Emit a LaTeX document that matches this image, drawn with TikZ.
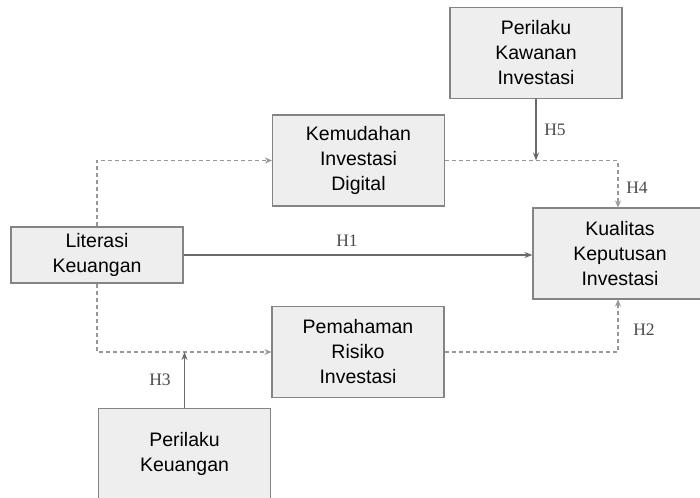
\documentclass[tikz,border=0pt]{standalone}
\usepackage{fontspec}
\setmainfont{Liberation Sans}
\newfontfamily\labfont{Liberation Serif}
\usetikzlibrary{arrows.meta}
\definecolor{boxfill}{HTML}{EEEEEE}
\definecolor{boxdraw}{HTML}{848484}
\definecolor{solidcol}{HTML}{6A6A6A}
\definecolor{dashcol}{HTML}{979797}
\definecolor{labcol}{HTML}{4A4A4A}
\begin{document}
\begin{tikzpicture}[x=1pt,y=-1pt,
  box/.style={draw=boxdraw, fill=boxfill, line width=1.1pt, minimum width=172pt,
    minimum height=91pt, align=center, inner sep=0pt,
    font=\fontsize{19.5}{25}\selectfont},
  solidline/.style={draw=solidcol, line width=1.2pt,
    -{Stealth[length=8pt,width=6pt]}},
  dashline/.style={draw=dashcol, line width=1.1pt, dash pattern=on 4pt off 3pt,
    -{Stealth[length=7pt,width=6pt]}},
  lab/.style={text=labcol, font=\labfont\fontsize{17.5}{17.5}\selectfont, inner sep=0pt}]
\useasboundingbox (0,0) rectangle (700,497);
\clip (0,0) rectangle (700,497);

\node[box, minimum height=56pt] (lit) at (97,255) {Literasi\\Keuangan};
\node[box] (kem) at (358.5,160.5) {Kemudahan\\Investasi\\Digital};
\node[box] (pkw) at (536,53) {Perilaku\\Kawanan\\Investasi};
\node[box, minimum width=174pt] (kua) at (620,253.5) {Kualitas\\Keputusan\\Investasi};
\node[box] (pem) at (358,352) {Pemahaman\\Risiko\\Investasi};
\node[box] (pku) at (184.5,454) {Perilaku\\Keuangan};

\coordinate (k4) at ([xshift=-2pt]kua.north);
\coordinate (k2) at ([xshift=-2pt]kua.south);
\coordinate (m5) at (pkw.south |- kem.east);
\coordinate (m3) at (pku.north |- pem.west);
\coordinate (k1) at (lit.east -| kua.west);

\draw[dashline] (lit.north) |- (kem.west);
\draw[dashline] (lit.south) |- (pem.west);
\draw[dashline] (kem.east) -| (k4);
\draw[dashline] (pem.east) -| (k2);
\draw[solidline] (lit.east) -- (k1);
\draw[solidline] (pkw.south) -- (m5);
\draw[solidline] (pku.north) -- (m3);

\node[lab] (h1) at (347,241) {H1};
\node[lab] (h5) at (555,130) {H5};
\node[lab] (h4) at (637,188) {H4};
\node[lab] (h2) at (644,330) {H2};
\node[lab] (h3) at (160,380) {H3};
\end{tikzpicture}
\end{document}
